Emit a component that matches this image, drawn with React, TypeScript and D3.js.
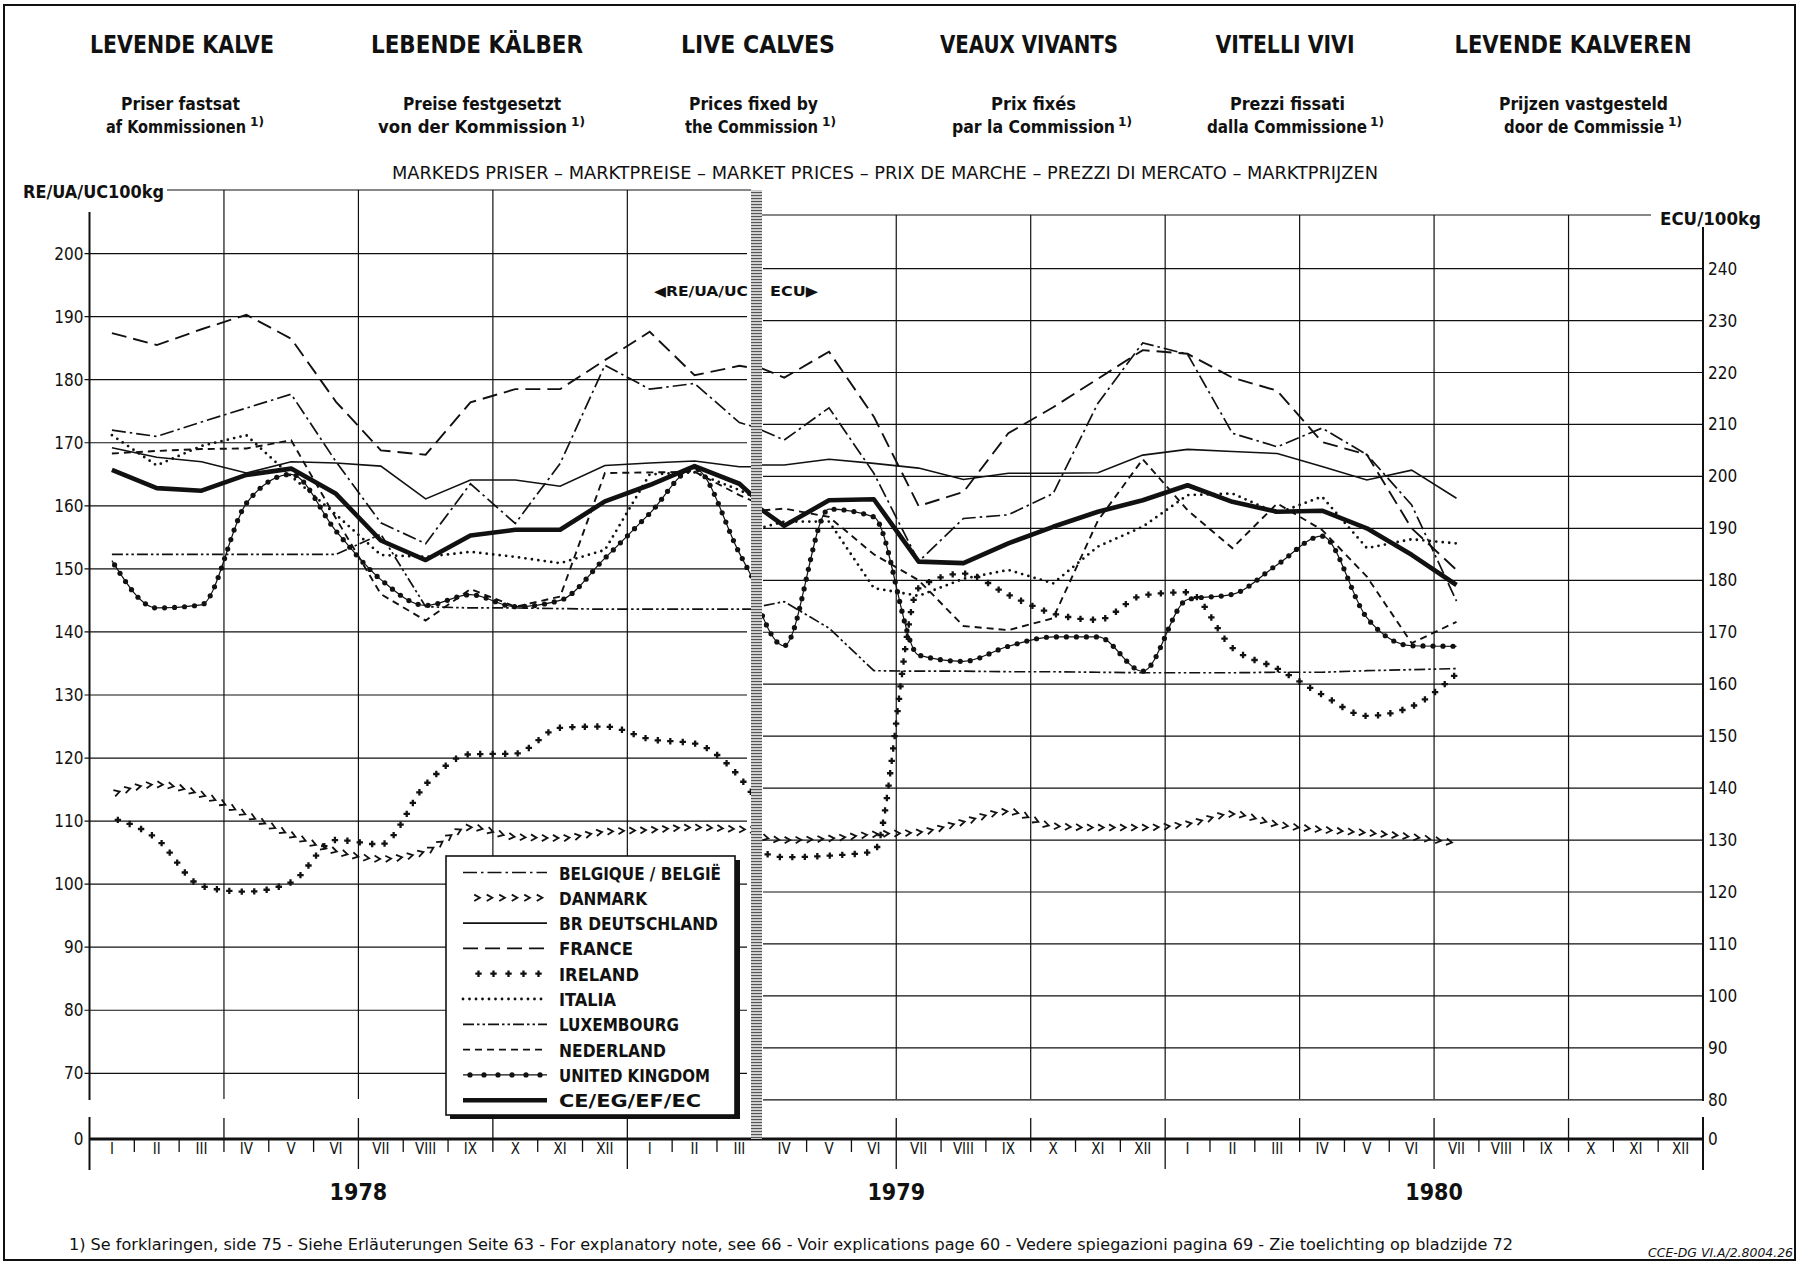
import React, { useEffect, useRef } from 'react';
import * as d3 from 'd3';

// ---- chart data ----
const monthLabels = ['I', 'II', 'III', 'IV', 'V', 'VI', 'VII', 'VIII', 'IX', 'X', 'XI', 'XII'];
const yearLabels = ['1978', '1979', '1980'];
const uaTicks = [200, 190, 180, 170, 160, 150, 140, 130, 120, 110, 100, 90, 80, 70];
const ecuTicks = [240, 230, 220, 210, 200, 190, 180, 170, 160, 150, 140, 130, 120, 110, 100, 90, 80];

const seriesNames = [
    'BELGIQUE / BELGIË', 'DANMARK', 'BR DEUTSCHLAND', 'FRANCE', 'IRELAND',
    'ITALIA', 'LUXEMBOURG', 'NEDERLAND', 'UNITED KINGDOM', 'CE/EG/EF/EC'
];

// left part, RE/UA/UC per 100 kg : I 1978 .. IV 1979 (the April value only leads the line into the divider)
const belgiumUA = [172, 171, 173.3, 175.5, 177.7, 167, 157.3, 154, 163.5, 157.2, 166.7, 182.3, 178.5, 179.4, 173.2, 171.2];
const danmarkUA = [114.3, 115.8, 114.2, 111, 107.8, 105.2, 104, 105.2, 109, 107.5, 107.3, 108.3, 108.6, 109, 108.7, 108.4];
const deutschlandUA = [169.2, 167.7, 167, 165.2, 167, 166.8, 166.3, 161.1, 164.1, 164.1, 163.1, 166.4, 166.8, 167.1, 166.2, 166.2];
const franceUA = [187.4, 185.5, 188, 190.3, 186.5, 176.5, 168.8, 168.1, 176.4, 178.5, 178.5, 183.1, 187.6, 180.7, 182.2, 181.1];
const irelandUA = [110.5, 107.2, 99.7, 98.8, 100.3, 107, 106.3, 115.8, 120.6, 120.7, 124.8, 125, 123, 122.3, 117, 105.8];
const italiaUA = [171.2, 166.4, 169.5, 171.2, 164.7, 158.6, 152.2, 151.9, 152.7, 151.9, 150.9, 153, 165, 165.3, 162.5, 159];
const luxembourgUA = [152.3, 152.3, 152.3, 152.3, 152.3, 152.3, 155.5, 144, 143.8, 143.8, 143.7, 143.6, 143.6, 143.6, 143.6, 143.6];
const nederlandUA = [168.3, 168.7, 169, 169.1, 170.4, 158, 146, 141.8, 146.8, 144, 145.6, 165.2, 165.3, 165.4, 161.7, 158.6];
const ukUA = [151.3, 143.8, 144.3, 160.4, 165, 156, 148.3, 144.2, 145.9, 144, 145, 151.7, 158.8, 165.9, 152.5, 139];
const ecUA = [165.7, 162.8, 162.4, 164.9, 165.9, 161.9, 154.5, 151.4, 155.3, 156.2, 156.2, 160.7, 163.3, 166.3, 163.5, 157];

// right part, ECU per 100 kg : III 1979 .. VII 1980 (the March value only leads the line out of the divider)
const belgiumECU = [210.8, 207, 213.2, 200.6, 183.6, 191.9, 192.6, 196.7, 214.1, 225.7, 223.5, 208.3, 205.7, 209.3, 204.2, 194.5, 176];
const danmarkECU = [131.9, 130, 130.3, 131.1, 131.5, 133.5, 135.5, 132.7, 132.4, 132.4, 133.1, 135, 133, 132, 131.4, 130.6, 129.4];
const deutschlandECU = [202.2, 202.2, 203.3, 202.5, 201.6, 199.4, 200.6, 200.6, 200.7, 204.1, 205.2, 204.8, 204.4, 201.9, 199.3, 201.2, 195.8];
const franceECU = [222.6, 219, 224, 211.5, 194.3, 197, 208.3, 213.3, 218.8, 224.3, 223.6, 219, 216.5, 206.6, 204.2, 190, 182];
const irelandECU = [129.8, 126.7, 127, 127.8, 178.5, 181.3, 177.2, 173.6, 172.4, 177.1, 177.7, 167, 163, 158, 153.9, 155.7, 162];
const italiaECU = [189, 191.3, 191.3, 178.5, 177, 180.3, 182, 179.4, 186.5, 190.3, 196.4, 196.7, 192.9, 196.1, 186.2, 187.9, 187.1];
const luxembourgECU = [174.2, 175.9, 170.8, 162.6, 162.5, 162.5, 162.4, 162.4, 162.3, 162.2, 162.2, 162.2, 162.3, 162.3, 162.6, 162.8, 163];
const nederlandECU = [193.1, 193.8, 192.2, 185, 180, 171.2, 170.4, 172.7, 191.5, 203.3, 193.5, 186.2, 194.8, 189.7, 180.7, 167.9, 172];
const ukECU = [186.9, 167.4, 193.7, 192.2, 165.6, 164.4, 167.3, 169.1, 169.1, 162.5, 176.3, 177.3, 183, 188.5, 172.8, 167.4, 167.3];
const ecECU = [196.6, 190.5, 195.4, 195.6, 183.6, 183.3, 187.1, 190.3, 193.2, 195.4, 198.3, 195.1, 193.2, 193.4, 190, 184.9, 179.1];

type LineStyle = 'dashdot' | 'chevron' | 'solid' | 'longdash' | 'cross' | 'dotted' | 'dashdotdot' | 'dash' | 'circles' | 'thick';

const styles: LineStyle[] = ['dashdot', 'chevron', 'solid', 'longdash', 'cross', 'dotted', 'dashdotdot', 'dash', 'circles', 'thick'];
const leftValues = [belgiumUA, danmarkUA, deutschlandUA, franceUA, irelandUA, italiaUA, luxembourgUA, nederlandUA, ukUA, ecUA];
const rightValues = [belgiumECU, danmarkECU, deutschlandECU, franceECU, irelandECU, italiaECU, luxembourgECU, nederlandECU, ukECU, ecECU];

const W = 1803;
const H = 1262;
const FONT = "'DejaVu Sans Condensed', 'Liberation Sans Narrow', 'Liberation Sans', sans-serif";
const INK = '#111';

const App: React.FC = () => {
    const svgRef = useRef<SVGSVGElement>(null);

    useEffect(() => {
        if (!svgRef.current) return;
        const svg = d3.select(svgRef.current);
        svg.selectAll('*').remove();

        const X0 = 89.5;
        const X1 = 1703;
        const Y0 = 1139;           // the zero line
        const bandL = 751;
        const bandR = 762;
        const gridBottom = 1099;

        const x = d3.scaleLinear().domain([0, 36]).range([X0, X1]);
        const yUA = d3.scaleLinear().domain([70, 200]).range([1073.3, 253.6]);
        const yECU = d3.scaleLinear().domain([80, 240]).range([1099.8, 268.6]);

        // text helper
        const text = (g: any, tx: number, ty: number, str: string, o: any = {}) => {
            const t = g.append('text')
                .attr('x', tx).attr('y', ty)
                .attr('font-family', FONT)
                .attr('font-size', o.size || 16)
                .attr('font-weight', o.weight || 'normal')
                .attr('text-anchor', o.anchor || 'start')
                .attr('fill', INK)
                .text(str);
            if (o.italic) t.attr('font-style', 'italic');
            if (o.len) t.attr('textLength', o.len).attr('lengthAdjust', 'spacingAndGlyphs');
            return t;
        };

        const defs = svg.append('defs');
        const pat = defs.append('pattern').attr('id', 'hatch')
            .attr('width', 6).attr('height', 3).attr('patternUnits', 'userSpaceOnUse');
        pat.append('rect').attr('width', 6).attr('height', 3).attr('fill', '#d4d4d4');
        pat.append('rect').attr('width', 6).attr('height', 1.1).attr('fill', '#555');
        defs.append('clipPath').attr('id', 'clipL').append('rect')
            .attr('x', X0).attr('y', 0).attr('width', bandL - X0).attr('height', H);
        defs.append('clipPath').attr('id', 'clipR').append('rect')
            .attr('x', bandR).attr('y', 0).attr('width', X1 - bandR).attr('height', H);

        svg.append('rect').attr('width', W).attr('height', H).attr('fill', '#fff');
        svg.append('rect').attr('x', 4).attr('y', 5).attr('width', 1791).attr('height', 1255)
            .attr('fill', 'none').attr('stroke', INK).attr('stroke-width', 2);

        // ---- headings ----
        const head = svg.append('g');
        const titles: [string, number, number][] = [
            ['LEVENDE KALVE', 182, 184], ['LEBENDE KÄLBER', 477, 212], ['LIVE CALVES', 758, 154],
            ['VEAUX VIVANTS', 1029, 178], ['VITELLI VIVI', 1285, 139], ['LEVENDE KALVEREN', 1573, 237]
        ];
        titles.forEach(([s, cx, len]) => text(head, cx, 53, s, { size: 25, weight: 'bold', anchor: 'middle', len }));

        const sub1: [string, number, number][] = [
            ['Priser fastsat', 121, 119], ['Preise festgesetzt', 403, 158], ['Prices fixed by', 689, 129],
            ['Prix fixés', 991, 85], ['Prezzi fissati', 1230, 115], ['Prijzen vastgesteld', 1499, 169]
        ];
        sub1.forEach(([s, sx, len]) => text(head, sx, 110, s, { size: 17, weight: 'bold', len }));
        const sub2: [string, number, number, number][] = [
            ['af Kommissionen', 106, 140, 250], ['von der Kommission', 378, 189, 571], ['the Commission', 685, 133, 822],
            ['par la Commission', 952, 163, 1118], ['dalla Commissione', 1207, 160, 1370], ['door de Commissie', 1504, 160, 1668]
        ];
        sub2.forEach(([s, sx, len, supX]) => {
            text(head, sx, 133, s, { size: 17, weight: 'bold', len });
            text(head, supX, 126, '1)', { size: 12, weight: 'bold', len: 14 });
        });

        text(head, 885, 179, 'MARKEDS PRISER – MARKTPREISE – MARKET PRICES – PRIX DE MARCHE – PREZZI DI MERCATO – MARKTPRIJZEN',
            { size: 18, anchor: 'middle', len: 986 });

        text(head, 23, 198, 'RE/UA/UC100kg', { size: 18, weight: 'bold', len: 141 });
        text(head, 1660, 225, 'ECU/100kg', { size: 18, weight: 'bold', len: 101 });

        // ---- grid ----
        const grid = svg.append('g').attr('stroke', INK).attr('stroke-width', 1.2).attr('fill', 'none');
        grid.append('line').attr('x1', 167).attr('x2', bandL).attr('y1', 190).attr('y2', 190);
        grid.append('line').attr('x1', bandR).attr('x2', 1651).attr('y1', 215).attr('y2', 215);

        uaTicks.forEach(v => {
            grid.append('line').attr('x1', X0 - 5).attr('x2', bandL - 4).attr('y1', yUA(v)).attr('y2', yUA(v));
        });
        ecuTicks.forEach(v => {
            grid.append('line').attr('x1', bandR + 1).attr('x2', X1).attr('y1', yECU(v)).attr('y2', yECU(v));
        });
        [3, 6, 9, 12].forEach(m => {
            grid.append('line').attr('x1', x(m)).attr('x2', x(m)).attr('y1', 190).attr('y2', gridBottom);
        });
        [18, 21, 24, 27, 30, 33].forEach(m => {
            grid.append('line').attr('x1', x(m)).attr('x2', x(m)).attr('y1', 215).attr('y2', gridBottom);
        });

        // axes with a break above zero
        const axes = svg.append('g').attr('stroke', INK).attr('fill', 'none');
        axes.append('line').attr('x1', X0).attr('x2', X0).attr('y1', 212).attr('y2', 1100).attr('stroke-width', 2);
        axes.append('line').attr('x1', X0).attr('x2', X0).attr('y1', 1117).attr('y2', 1170).attr('stroke-width', 2);
        axes.append('line').attr('x1', X1).attr('x2', X1).attr('y1', 227).attr('y2', 1101).attr('stroke-width', 2);
        axes.append('line').attr('x1', X1).attr('x2', X1).attr('y1', 1117).attr('y2', 1170).attr('stroke-width', 2);
        axes.append('line').attr('x1', X0).attr('x2', X1).attr('y1', Y0).attr('y2', Y0).attr('stroke-width', 3);

        d3.range(1, 36).forEach(m => {
            let top = Y0;
            let bottom = Y0 + 13;
            if (m % 3 === 0) top = Y0 - 21;
            if (m % 6 === 0) bottom = Y0 + 30;
            if (m === 15) return;
            axes.append('line').attr('x1', x(m)).attr('x2', x(m)).attr('y1', top).attr('y2', bottom).attr('stroke-width', 1.3);
        });

        const labels = svg.append('g');
        uaTicks.forEach(v => text(labels, X0 - 6, yUA(v) + 6, String(v), { size: 17, anchor: 'end' }));
        text(labels, X0 - 6, Y0 + 6, '0', { size: 17, anchor: 'end' });
        ecuTicks.forEach(v => text(labels, X1 + 5, yECU(v) + 6, String(v), { size: 17 }));
        text(labels, X1 + 5, Y0 + 6, '0', { size: 17 });

        d3.range(36).forEach(i => {
            text(labels, x(i + 0.5), Y0 + 15, monthLabels[i % 12], { size: 15, anchor: 'middle' });
        });
        yearLabels.forEach((yl, k) => text(labels, x(6 + 12 * k), 1200, yl, { size: 23, weight: 'bold', anchor: 'middle' }));

        // ---- divider between RE/UA/UC and ECU ----
        svg.append('rect').attr('x', bandL).attr('y', 190).attr('width', bandR - bandL).attr('height', Y0 - 190)
            .attr('fill', 'url(#hatch)');
        text(labels, bandL - 3, 296, '◀RE/UA/UC', { size: 14, weight: 'bold', anchor: 'end', len: 94 });
        text(labels, bandR + 8, 296, 'ECU▶', { size: 14, weight: 'bold', len: 48 });

        // ---- series ----
        const drawStyled = (g: any, pts: [number, number][], style: LineStyle, smooth: boolean, step?: number) => {
            const gen = d3.line().curve(smooth ? d3.curveMonotoneX : d3.curveLinear);
            const p = g.append('path').attr('d', gen(pts)).attr('fill', 'none').attr('stroke', INK)
                .attr('stroke-width', 1.7);
            const stepOf = (s: number) => step || s;
            const along = (spacing: number, fn: (px: number, py: number, ang: number) => void) => {
                const node = p.node() as SVGPathElement;
                const total = node.getTotalLength();
                for (let l = spacing / 2; l < total; l += spacing) {
                    const a = node.getPointAtLength(l);
                    const b = node.getPointAtLength(Math.min(total, l + 1));
                    const ang = Math.atan2(b.y - a.y, b.x - a.x) * 180 / Math.PI;
                    fn(a.x, a.y, ang);
                }
            };
            switch (style) {
                case 'solid': p.attr('stroke-width', 1.6); break;
                case 'thick': p.attr('stroke-width', 4.6).attr('stroke-linejoin', 'round'); break;
                case 'longdash': p.attr('stroke-dasharray', '15 7').attr('stroke-width', 1.9); break;
                case 'dash': p.attr('stroke-dasharray', '7 5').attr('stroke-width', 1.9); break;
                case 'dashdot': p.attr('stroke-dasharray', '14 4 2.5 4'); break;
                case 'dashdotdot': p.attr('stroke-dasharray', '11 3 2.5 3 2.5 3'); break;
                case 'dotted':
                    p.attr('stroke-dasharray', '0 6.5').attr('stroke-linecap', 'round').attr('stroke-width', 2.8);
                    break;
                case 'circles':
                    p.attr('stroke-width', 1.2);
                    along(stepOf(10), (px, py) => {
                        g.append('circle').attr('cx', px).attr('cy', py).attr('r', 2.6).attr('fill', INK);
                    });
                    break;
                case 'cross':
                    p.attr('stroke', 'none');
                    along(stepOf(12.5), (px, py) => {
                        g.append('path').attr('d', `M${px - 3.2},${py}H${px + 3.2}M${px},${py - 3.2}V${py + 3.2}`)
                            .attr('stroke', INK).attr('stroke-width', 2.3);
                    });
                    break;
                case 'chevron':
                    p.attr('stroke', 'none');
                    along(stepOf(11), (px, py, ang) => {
                        g.append('path').attr('d', 'M-3,-3.2L2.6,0L-3,3.2')
                            .attr('transform', `translate(${px},${py}) rotate(${ang})`)
                            .attr('fill', 'none').attr('stroke', INK).attr('stroke-width', 1.8);
                    });
                    break;
            }
        };

        const left = svg.append('g').attr('clip-path', 'url(#clipL)');
        const right = svg.append('g').attr('clip-path', 'url(#clipR)');
        const smoothOf = (s: LineStyle) => s === 'chevron' || s === 'cross' || s === 'circles';

        styles.forEach((st, k) => {
            const lp: [number, number][] = leftValues[k].map((v, i) => [x(i + 0.5), yUA(v)]);
            const rp: [number, number][] = rightValues[k].map((v, i) => [x(i + 14.5), yECU(v)]);
            drawStyled(left, lp, st, smoothOf(st));
            drawStyled(right, rp, st, smoothOf(st));
        });

        // ---- legend ----
        const lg = svg.append('g');
        lg.append('rect').attr('x', 450).attr('y', 860).attr('width', 290).attr('height', 259).attr('fill', INK);
        lg.append('rect').attr('x', 446).attr('y', 856).attr('width', 289).attr('height', 259)
            .attr('fill', '#fff').attr('stroke', INK).attr('stroke-width', 1.6);
        const legendLen = [162, 88, 159, 74, 80, 57, 120, 107, 151, 142];
        seriesNames.forEach((name, k) => {
            const by = 879.5 + k * 25.3;
            const ly = by - 7;
            const st = styles[k];
            const sx0 = st === 'chevron' || st === 'cross' ? 471 : 463;
            drawStyled(lg, [[sx0, ly], [547, ly]], st, false, st === 'circles' ? 14 : st === 'cross' ? 15 : 12.5);
            text(lg, 559, by, name, { size: 18, weight: 'bold', len: legendLen[k] });
        });

        // ---- footnote ----
        text(svg, 69, 1250,
            '1) Se forklaringen, side 75 - Siehe Erläuterungen Seite 63 - For explanatory note, see 66 - Voir explications page 60 - Vedere spiegazioni pagina 69 - Zie toelichting op bladzijde 72',
            { size: 16, len: 1444 });
        text(svg, 1648, 1257, 'CCE-DG VI.A/2.8004.26', { size: 13, italic: true, len: 145 });
    }, []);

    return (
        <svg ref={svgRef} width={W} height={H}
            style={{ position: 'absolute', left: 0, top: 0, background: '#fff' }} />
    );
};

export default App;
